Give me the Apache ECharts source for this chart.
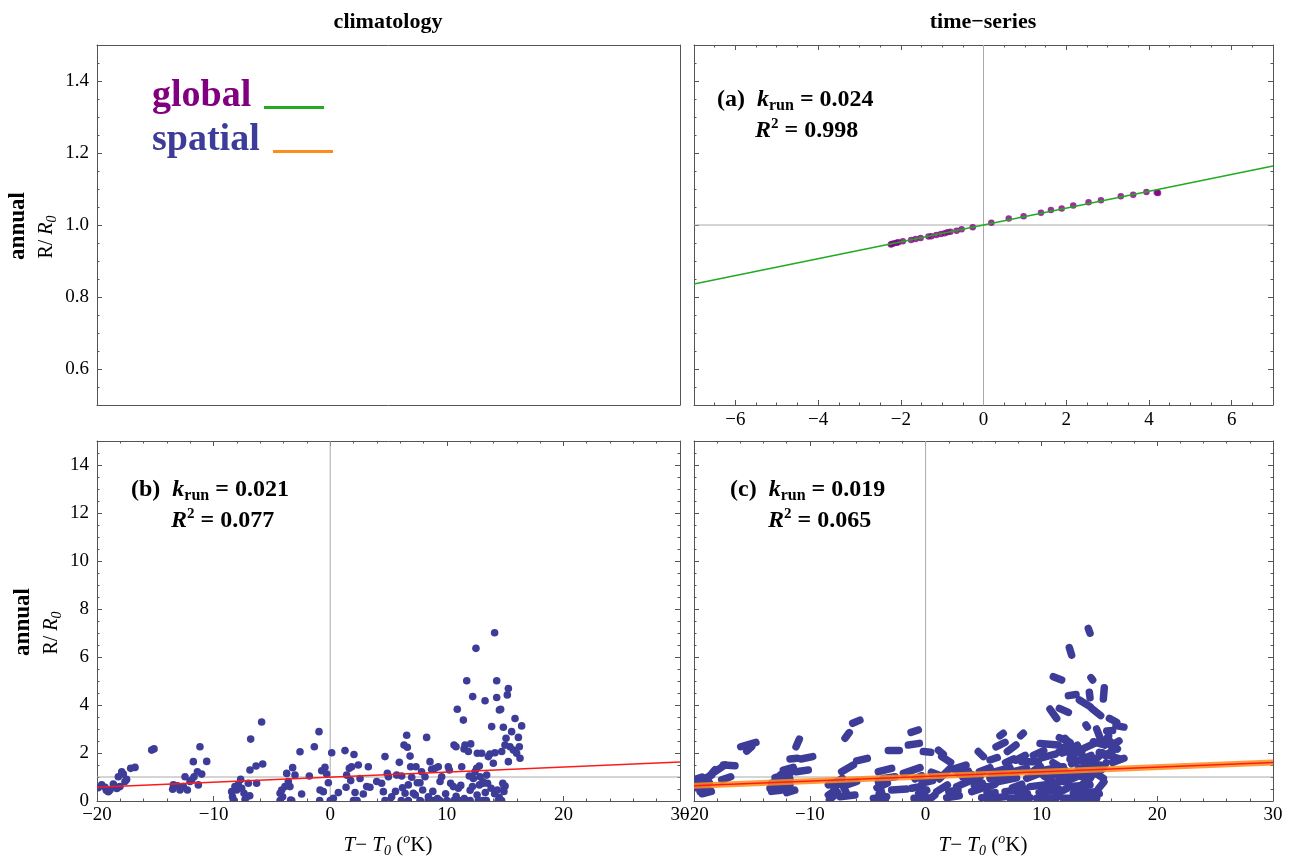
<!DOCTYPE html>
<html><head><meta charset="utf-8">
<script src="https://cdn.jsdelivr.net/npm/echarts@6/dist/echarts.min.js"></script>
<style>html,body{margin:0;padding:0;background:#fff}#c{width:1309px;height:858px}</style>
</head><body><div id="c"></div>
<script>
const FONT = '"Liberation Serif","Times New Roman",serif';
const BLUE = '#3d3d99', PURPLE = '#800080', GREEN = '#22aa22', ORANGE = '#ff8c1a', RED = '#ff1a1a';

// ---- panel (a): time-series, global ----
const tsX = [-2.24,-2.22,-2.16,-2.10,-2.06,-1.95,-1.75,-1.64,-1.52,-1.33,-1.26,-1.14,-1.03,-0.94,-0.87,-0.80,-0.65,-0.53,-0.26,0.19,0.61,0.97,1.39,1.63,1.89,2.17,2.54,2.84,3.32,3.62,3.94,4.19,4.22];
const tsY = [0.946,0.947,0.949,0.951,0.952,0.955,0.958,0.961,0.964,0.968,0.969,0.972,0.975,0.977,0.980,0.981,0.984,0.988,0.994,1.006,1.018,1.024,1.034,1.042,1.046,1.054,1.063,1.069,1.080,1.084,1.092,1.090,1.089];
const fitAX = [-7, 7], fitAY = [0.836, 1.164];

// ---- panel (b): climatology, spatial ----
const climX = [-19.90,-19.60,-19.31,-19.20,-19.03,-18.89,-18.60,-18.46,-18.30,-18.17,-18.03,-17.88,-17.74,-17.60,-17.46,-17.11,-16.74,-15.31,-15.11,
-13.51,-13.45,-13.11,-12.88,-12.59,-12.45,-12.25,-12.02,-11.88,-11.74,-11.68,-11.39,-11.31,-11.17,-11.02,-10.59,
-8.45,-8.38,-8.30,-8.17,-8.02,-7.88,-7.68,-7.59,-7.39,-7.30,-7.16,-7.02,-6.90,-6.88,-6.82,-6.36,-6.31,-5.88,-5.79,
-4.30,-4.30,-4.16,-4.08,-3.88,-3.73,-3.59,-3.45,-3.39,-3.30,-3.22,-3.02,-2.59,-2.45,-1.79,-1.36,-0.96,-0.90,-0.87,-0.73,-0.59,-0.45,-0.30,-0.16,
0.00,0.13,0.27,0.70,1.27,1.36,1.41,1.64,1.76,1.84,2.00,2.04,2.13,2.30,2.41,2.56,2.84,3.13,3.27,3.41,3.99,4.41,4.56,4.70,4.70,4.90,4.99,5.10,5.27,5.60,5.70,5.93,
6.10,6.13,6.20,6.33,6.42,6.56,6.62,6.70,6.70,6.85,6.90,6.99,7.13,7.30,7.36,7.47,7.70,7.70,7.84,7.93,8.13,8.27,8.40,8.42,8.56,8.70,8.80,8.80,8.99,
9.20,9.27,9.40,9.42,9.56,9.90,10.00,10.13,10.22,10.33,10.56,10.60,10.62,10.79,10.80,10.90,10.99,11.10,11.20,11.28,11.42,11.48,11.50,11.56,11.60,11.71,11.85,11.93,
12.00,12.00,12.05,12.20,12.22,12.28,12.42,12.50,12.56,12.60,12.62,12.70,12.79,12.80,12.85,12.99,13.10,13.10,13.13,13.28,13.30,13.40,13.42,13.50,13.56,13.70,13.80,13.85,13.99,
14.10,14.10,14.13,14.28,14.28,14.33,14.40,14.50,14.51,14.62,14.70,14.71,14.80,14.85,14.90,14.91,14.99,15.00,15.08,15.19,15.28,15.28,15.42,15.56,15.71,15.85,15.99,16.14,16.22,16.28,16.42];
const climY = [0.55,0.67,0.57,0.45,0.39,0.46,0.71,0.60,0.52,1.01,0.60,1.22,1.12,0.81,0.90,1.36,1.40,2.12,2.17,
0.49,0.67,0.63,0.46,0.60,1.01,0.46,0.81,0.87,1.64,1.01,1.22,0.67,2.26,1.12,1.65,
0.39,0.18,0.05,0.60,0.46,0.67,0.90,0.53,0.32,0.07,0.18,0.74,0.22,1.29,2.58,1.46,0.74,3.29,1.54,
0.32,0.02,0.46,0.18,0.60,1.15,0.81,0.60,0.04,0.02,1.39,1.08,2.05,0.29,1.04,2.26,2.89,0.02,0.46,1.26,0.39,1.40,1.12,0.76,
0.02,2.01,0.11,0.35,2.10,0.57,1.08,1.36,0.85,1.43,0.02,1.94,0.35,0.02,1.50,0.94,0.29,0.60,1.43,0.57,0.81,0.74,0.39,1.85,0.02,1.15,1.01,0.02,0.18,0.40,1.08,1.61,
0.02,1.04,0.55,2.33,0.32,2.74,2.24,0.67,0.02,1.87,1.43,0.99,0.32,0.25,1.43,0.76,0.76,0.02,1.22,0.46,1.01,2.65,0.02,0.18,1.64,1.32,0.40,0.02,1.36,
0.10,1.43,0.02,0.81,1.01,0.30,0.02,1.43,1.29,0.74,0.60,0.02,2.33,2.26,0.20,3.82,0.53,0.02,0.65,1.43,3.37,2.17,0.10,2.33,0.02,5.01,2.06,1.04,
0.45,0.02,2.38,0.60,4.35,0.94,1.22,6.36,1.36,0.25,1.99,0.02,1.46,0.67,1.01,1.99,0.80,0.02,0.74,4.18,0.35,0.02,1.08,0.74,1.85,1.96,0.53,3.10,1.57,
7.01,0.30,2.01,5.01,4.31,0.46,0.02,0.15,3.79,3.82,0.02,2.06,0.74,3.07,0.40,0.60,2.33,0.62,2.61,4.42,4.69,1.64,2.26,2.89,2.12,3.44,1.99,2.65,2.26,1.78,3.13];
const fitBX = [-20, 30], fitBY = [0.57, 1.62];

// ---- panel (c): time-series, spatial (runs of points: x1,y1 -> x2,y2) ----
const runSegs = [
[-19.83,0.56,-18.68,0.78],[-19.48,0.39,-18.76,0.50],[-19.63,0.81,-18.47,1.08],[-18.19,1.22,-17.32,1.50],
[-17.61,0.88,-16.83,1.01],[-17.47,1.50,-16.46,1.47],[-15.97,2.26,-14.65,2.44],[-15.45,2.08,-15.02,2.26],
[-20.00,0.62,-19.20,0.70],[-19.30,0.30,-18.50,0.40],[-18.80,0.95,-18.20,1.30],[-19.90,0.90,-19.30,1.00],
[-13.44,0.53,-12.00,0.60],[-13.29,0.74,-11.71,0.92],[-13.00,0.97,-11.71,1.15],[-12.29,1.29,-11.42,1.40],
[-11.71,1.75,-11.08,1.78],[-11.19,1.22,-10.13,1.29],[-10.76,1.75,-9.75,1.85],[-11.19,2.26,-10.90,2.58],
[-12.72,0.56,-11.71,0.67],[-13.30,0.40,-12.50,0.45],[-12.50,1.10,-11.90,1.20],[-12.00,0.35,-11.30,0.45],
[-8.40,0.67,-7.68,0.81],[-8.40,0.25,-7.97,0.39],[-8.30,0.05,-7.60,0.35],
[-7.90,0.50,-7.20,0.95],[-7.39,0.88,-6.82,0.32],[-7.25,1.22,-6.24,1.50],[-5.95,1.67,-5.03,1.78],
[-6.96,2.61,-6.59,2.85],[-6.30,3.24,-5.67,3.37],[-7.39,0.18,-6.10,0.25],[-6.82,0.67,-5.95,0.81],
[-4.08,0.81,-3.65,0.11],[-4.08,1.22,-2.93,1.36],[-3.22,2.10,-2.27,2.10],[-3.65,0.94,-2.64,1.01],
[-4.20,0.55,-3.30,0.75],[-4.00,0.30,-3.50,0.05],[-4.51,0.11,-3.36,0.18],
[-2.93,0.46,-1.64,0.50],[-1.92,1.15,-0.48,1.39],[-1.49,2.33,-0.54,2.40],[-1.26,2.86,-0.63,2.96],
[-1.20,0.53,-0.25,0.62],[-0.92,0.92,-0.34,1.06],[-1.00,0.11,0.15,0.14],[-0.20,2.06,0.44,2.03],
[-0.30,0.75,0.60,0.85],[0.20,0.02,0.80,0.25],[0.50,1.20,1.30,1.05],[-0.60,0.30,0.10,0.45],
[1.10,2.12,1.53,1.94],[1.39,1.85,2.16,1.61],[1.19,0.92,2.11,1.36],[2.39,1.33,3.49,1.50],
[0.96,0.39,1.88,0.67],[1.82,0.14,2.91,0.22],[2.68,0.60,3.69,0.81],[2.83,1.15,3.69,1.25],
[2.00,0.40,2.80,0.45],[3.20,1.00,4.00,1.10],[4.20,0.65,4.90,0.75],
[3.55,0.83,4.70,1.01],[4.55,2.06,4.99,1.85],[3.98,0.39,5.27,0.60],[4.64,1.22,5.56,1.39],
[4.84,0.14,5.56,0.11],[5.56,1.71,6.19,1.81],[6.08,2.26,6.86,2.44],[6.42,2.72,6.71,2.82],
[7.06,2.06,7.81,2.33],[8.21,2.72,8.44,2.82],[5.79,1.19,7.29,1.39],[6.28,0.81,7.86,0.97],
[6.86,0.39,8.58,0.50],[5.56,0.11,6.86,0.18],[8.30,1.64,9.73,1.64],[8.73,0.94,10.17,1.22],
[5.20,0.55,6.00,0.70],[6.50,1.10,7.10,1.00],[7.50,0.55,8.30,0.70],[8.00,0.25,8.80,0.30],
[9.30,1.25,9.90,1.45],[5.30,0.30,6.00,0.35],[6.90,1.60,7.60,1.75],
[9.02,0.60,10.60,0.69],[7.29,0.11,9.02,0.14],[9.88,2.40,11.46,2.33],[10.31,1.29,11.89,1.43],
[10.74,0.69,12.18,0.88],[9.59,0.11,11.32,0.14],[10.74,3.83,11.32,3.44],[11.55,3.86,12.33,3.69],
[11.03,5.18,11.75,5.04],[12.41,6.39,12.61,6.08],[14.05,7.19,14.20,6.99],[12.33,4.39,12.99,4.44],
[13.28,4.21,14.20,3.93],[14.28,5.14,14.43,5.04],[14.14,4.53,14.20,4.30],[15.43,4.72,15.35,4.25],
[14.34,3.86,15.12,3.56],[13.85,3.17,13.97,3.08],[15.87,3.44,16.50,3.28],[16.44,3.14,17.13,3.08],
[14.77,3.00,15.06,2.64],[15.64,2.92,16.15,2.94],[12.04,2.61,13.10,2.06],[11.55,2.64,12.47,2.44],
[13.10,2.33,13.68,1.75],[14.48,2.47,15.49,2.33],[15.00,2.03,16.79,1.75],[15.69,2.61,16.56,2.17],
[16.15,1.61,17.13,1.78],[12.47,1.75,14.34,1.61],[13.19,1.36,15.06,1.50],[12.18,1.15,14.20,0.94],
[12.47,0.60,14.20,0.67],[12.76,0.32,14.77,0.39],[11.89,0.11,14.77,0.11],[14.48,1.22,15.35,0.94],
[5.56,0.94,6.42,1.08],[7.58,1.22,8.73,1.36],[9.30,1.90,10.20,2.10],[7.80,1.70,8.60,1.90],
[10.00,1.80,11.20,1.95],[10.20,1.05,11.00,0.80],[10.50,0.40,11.50,0.50],[11.00,1.60,12.00,1.30],
[11.30,0.30,12.30,0.55],[11.80,2.00,12.80,2.20],[12.00,0.80,13.00,1.00],[12.50,1.90,13.50,2.10],
[13.00,0.45,13.90,0.85],[13.30,1.15,14.50,1.25],[13.70,2.20,14.60,2.40],[14.00,0.20,15.00,0.30],
[14.20,0.95,14.90,1.40],[14.60,1.70,15.30,2.00],[14.90,0.50,15.40,0.80],[15.20,1.30,15.60,1.60],
[15.30,2.40,15.80,2.70],[9.80,0.35,10.60,0.45],[10.90,1.10,11.70,1.05],[11.50,2.05,12.00,2.25],
[12.60,1.55,13.30,1.70],[13.60,1.75,14.30,1.90],[15.50,1.90,16.20,2.10],[16.00,2.30,16.70,2.50]
];
const fitCX = [-20, 30], fitCY = [0.64, 1.60];

// ---- ticks ----
const topYTicks = [0.6, 0.8, 1.0, 1.2, 1.4];
const topXTicks = [-6, -4, -2, 0, 2, 4, 6];
const botYTicks = [0, 2, 4, 6, 8, 10, 12, 14];
const botXTicks = [-20, -10, 0, 10, 20, 30];

const grids = [
  {left: 97, top: 45, width: 583, height: 360},
  {left: 694, top: 45, width: 579, height: 360},
  {left: 97, top: 441, width: 583, height: 360},
  {left: 694, top: 441, width: 579, height: 360}
];

const AX = '#555';
function fmt(dec) { return v => (dec ? Number(v).toFixed(dec) : String(Math.round(v))).replace('-', '\u2212'); }

const xAxes = [], yAxes = [];
function addAxes(list, dim, gi, o) {
  const near = dim === 'x' ? 'bottom' : 'left';
  const far = dim === 'x' ? 'top' : 'right';
  const base = () => ({type: 'value', gridIndex: gi, min: o.min, max: o.max, splitLine: {show: false}});
  const line = {show: true, onZero: false, lineStyle: {color: AX, width: 1}};
  const mainIdx = list.length;
  list.push(Object.assign(base(), {position: near, axisLine: line,
    axisTick: {show: !!o.nearTicks, inside: true, length: 5, customValues: o.majors, lineStyle: {color: AX}},
    axisLabel: {show: !!o.labels, customValues: o.majors, formatter: fmt(o.dec), fontFamily: FONT, fontSize: 19, color: '#000', margin: o.margin}}));
  list.push(Object.assign(base(), {position: far, axisLine: line,
    axisTick: {show: !!o.farTicks, inside: true, length: 5, customValues: o.majors, lineStyle: {color: AX}},
    axisLabel: {show: false}}));
  const minor = pos => Object.assign(base(), {position: pos, interval: o.minorStep,
    axisLine: {show: false, onZero: false}, axisTick: {show: true, inside: true, length: 2.5, lineStyle: {color: AX}}, axisLabel: {show: false}});
  if (o.nearTicks) list.push(minor(near));
  if (o.farTicks) list.push(minor(far));
  return mainIdx;
}

const ax = [];
ax[0] = {x: addAxes(xAxes, 'x', 0, {min: -7, max: 7, majors: topXTicks, minorStep: 0.5}),
         y: addAxes(yAxes, 'y', 0, {min: 0.5, max: 1.5, majors: topYTicks, minorStep: 0.05, labels: true, nearTicks: true, dec: 1, margin: 8})};
ax[1] = {x: addAxes(xAxes, 'x', 1, {min: -7, max: 7, majors: topXTicks, minorStep: 0.5, labels: true, nearTicks: true, farTicks: true, margin: 6}),
         y: addAxes(yAxes, 'y', 1, {min: 0.5, max: 1.5, majors: topYTicks, minorStep: 0.05, nearTicks: true, farTicks: true})};
ax[2] = {x: addAxes(xAxes, 'x', 2, {min: -20, max: 30, majors: botXTicks, minorStep: 2, labels: true, nearTicks: true, farTicks: true, margin: 5}),
         y: addAxes(yAxes, 'y', 2, {min: 0, max: 15, majors: botYTicks, minorStep: 0.5, labels: true, nearTicks: true, farTicks: true, margin: 8})};
ax[3] = {x: addAxes(xAxes, 'x', 3, {min: -20, max: 30, majors: botXTicks, minorStep: 2, labels: true, nearTicks: true, farTicks: true, margin: 5}),
         y: addAxes(yAxes, 'y', 3, {min: 0, max: 15, majors: botYTicks, minorStep: 0.5, nearTicks: true, farTicks: true})};

const series = [];
function refLines(p, xr, yr) {
  const common = {type: 'line', xAxisIndex: ax[p].x, yAxisIndex: ax[p].y, symbol: 'none', silent: true, z: 1,
    lineStyle: {color: '#aaa', width: 1}};
  series.push(Object.assign({data: [[xr[0], 1], [xr[1], 1]]}, common));
  series.push(Object.assign({data: [[0, yr[0]], [0, yr[1]]]}, common));
}
function fitLine(p, xs, ys, color, width, z, opacity) {
  series.push({type: 'line', xAxisIndex: ax[p].x, yAxisIndex: ax[p].y, symbol: 'none', silent: true, z: z,
    data: [[xs[0], ys[0]], [xs[1], ys[1]]], lineStyle: {color: color, width: width, opacity: opacity || 1}});
}

// panel a
refLines(1, [-7, 7], [0.5, 1.5]);
series.push({type: 'scatter', xAxisIndex: ax[1].x, yAxisIndex: ax[1].y, z: 3, symbolSize: 6.5,
  itemStyle: {color: PURPLE}, data: tsX.map((x, i) => [x, tsY[i]])});
fitLine(1, fitAX, fitAY, GREEN, 1.5, 4);

// panel b
refLines(2, [-20, 30], [0, 15]);
series.push({type: 'custom', xAxisIndex: ax[2].x, yAxisIndex: ax[2].y, z: 3, clip: true,
  data: climX.map((x, i) => [x, climY[i]]), encode: {x: 0, y: 1},
  renderItem: (p, api) => {
    const c = api.coord([api.value(0), api.value(1)]);
    return {type: 'circle', shape: {cx: c[0], cy: c[1], r: 3.8}, style: {fill: BLUE}};
  }});
fitLine(2, fitBX, fitBY, RED, 1.5, 4);

// panel c
refLines(3, [-20, 30], [0, 15]);
series.push({type: 'custom', xAxisIndex: ax[3].x, yAxisIndex: ax[3].y, z: 3, clip: true,
  data: runSegs, encode: {x: [0, 2], y: [1, 3]},
  renderItem: (p, api) => {
    const a = api.coord([api.value(0), api.value(1)]);
    const b = api.coord([api.value(2), api.value(3)]);
    return {type: 'line', shape: {x1: a[0], y1: a[1], x2: b[0], y2: b[1]},
      style: {stroke: BLUE, lineWidth: 7.5, lineCap: 'round'}};
  }});
fitLine(3, fitCX, fitCY, ORANGE, 6, 4, 0.85);
fitLine(3, fitCX, fitCY, RED, 1.5, 5);

// ---- text ----
const T = (x, y, text, rich, extra) => ({type: 'text', x: x, y: y, silent: true,
  style: Object.assign({text: text, rich: rich || {}, fill: '#000', align: 'left', verticalAlign: 'middle',
    textAlign: 'left', textVerticalAlign: 'middle', font: '24px ' + FONT}, extra || {})});
const annRich = {
  n: {fontFamily: FONT, fontWeight: 'bold', fontSize: 24, lineHeight: 28},
  i: {fontFamily: FONT, fontWeight: 'bold', fontStyle: 'italic', fontSize: 24, lineHeight: 28},
  sub: {fontFamily: FONT, fontWeight: 'bold', fontSize: 16, verticalAlign: 'bottom'},
  sup: {fontFamily: FONT, fontWeight: 'bold', fontSize: 15, verticalAlign: 'top'}
};
const axRich = {
  n: {fontFamily: FONT, fontSize: 21, lineHeight: 26},
  i: {fontFamily: FONT, fontStyle: 'italic', fontSize: 21, lineHeight: 26},
  sub: {fontFamily: FONT, fontStyle: 'italic', fontSize: 14, verticalAlign: 'bottom'},
  sup: {fontFamily: FONT, fontStyle: 'italic', fontSize: 14, verticalAlign: 'top'}
};
const yRich = {
  n: {fontFamily: FONT, fontSize: 20, lineHeight: 24},
  i: {fontFamily: FONT, fontStyle: 'italic', fontSize: 20, lineHeight: 24},
  sub: {fontFamily: FONT, fontStyle: 'italic', fontSize: 14, verticalAlign: 'bottom'}
};
function annot(x, y, label, k, x2, r2) {
  return [
    T(x, y, '{n|' + label + '  }{i|k}{sub|run}{n| = ' + k + '}', annRich),
    T(x2, y + 31, '{i|R}{sup|2}{n| = ' + r2 + '}', annRich)
  ];
}
function center(x, y, text, rich, font, rot) {
  const el = T(x, y, text, rich, {align: 'center', textAlign: 'center', font: font});
  if (rot) el.rotation = Math.PI / 2;
  return el;
}

const graphic = [
  center(388, 22, 'climatology', null, 'bold 22px ' + FONT),
  center(983, 22, 'time\u2212series', null, 'bold 22px ' + FONT),
  T(152, 96, 'global', null, {font: 'bold 38px ' + FONT, fill: PURPLE}),
  T(152, 140, 'spatial', null, {font: 'bold 38px ' + FONT, fill: BLUE}),
  {type: 'line', silent: true, shape: {x1: 264, y1: 107.5, x2: 324, y2: 107.5}, style: {stroke: GREEN, lineWidth: 3}},
  {type: 'line', silent: true, shape: {x1: 273, y1: 151.5, x2: 333, y2: 151.5}, style: {stroke: ORANGE, lineWidth: 3}},
  ...annot(717, 100, '(a)', '0.024', 755, '0.998'),
  ...annot(131, 490, '(b)', '0.021', 171, '0.077'),
  ...annot(730, 490, '(c)', '0.019', 768, '0.065'),
  center(18, 226, 'annual', null, 'bold 23px ' + FONT, true),
  center(47, 237, '{n|R/ }{i|R}{sub|0}', yRich, '20px ' + FONT, true),
  center(23, 622, 'annual', null, 'bold 23px ' + FONT, true),
  center(52, 633, '{n|R/ }{i|R}{sub|0}', yRich, '20px ' + FONT, true),
  center(388, 845, '{i|T}{n|\u2212 }{i|T}{sub|0}{n| (}{sup|o}{n|K)}', axRich, '21px ' + FONT),
  center(983, 845, '{i|T}{n|\u2212 }{i|T}{sub|0}{n| (}{sup|o}{n|K)}', axRich, '21px ' + FONT)
];

const chart = echarts.init(document.getElementById('c'), null, {renderer: 'canvas'});
chart.setOption({
  animation: false,
  backgroundColor: '#fff',
  grid: grids,
  xAxis: xAxes,
  yAxis: yAxes,
  series: series,
  graphic: graphic
});
</script>
</body></html>
